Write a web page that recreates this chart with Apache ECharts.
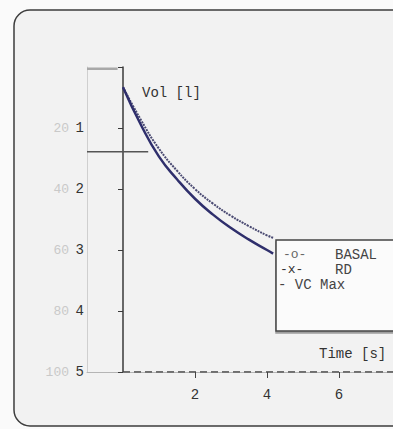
<!DOCTYPE html>
<html>
<head>
<meta charset="utf-8">
<script src="https://cdn.jsdelivr.net/npm/echarts@6/dist/echarts.min.js"></script>
<style>
  html, body { margin: 0; padding: 0; background: #fafafa; }
  #chart { width: 393px; height: 429px; }
</style>
</head>
<body>
<div id="chart"></div>
<script>
// spirometry curves (volume in litres, time in s)
var time  = [0, 0.5, 1, 1.5, 2, 2.5, 3, 3.5, 4, 4.17]
var basal = [0.33, 0.87, 1.34, 1.70, 2.00, 2.24, 2.44, 2.61, 2.76, 2.80]
var rd    = [0.33, 0.95, 1.47, 1.84, 2.16, 2.42, 2.64, 2.83, 3.00, 3.06]
var vcMax = 5
var volTicks = [1, 2, 3, 4, 5]
var pctTicks = [20, 40, 60, 80, 100]
var timeTicks = [2, 4, 6]

var mono = 'Liberation Mono'

function pairs (xs, ys) {
  return xs.map(function (x, i) { return [x, ys[i]] })
}

var chart = echarts.init(document.getElementById('chart'), null, { renderer: 'svg' })

var option = {
  backgroundColor: '#fafafa',
  animation: false,
  grid: {
    left: 87,
    top: 67,
    width: 324,
    height: 305,
    outerBoundsMode: 'none'
  },
  xAxis: {
    type: 'value',
    min: -1,
    max: 8,
    splitLine: { show: false },
    axisLine: { onZero: false, lineStyle: { color: '#b5b5b5', width: 1 } },
    axisTick: { customValues: timeTicks, length: 6, lineStyle: { color: '#444' } },
    axisLabel: {
      customValues: timeTicks,
      margin: 16,
      fontFamily: mono,
      fontSize: 14,
      color: '#333'
    }
  },
  yAxis: [{
    type: 'value',
    min: 0,
    max: 5,
    interval: 1,
    inverse: true,
    splitLine: { show: false },
    axisLine: { onZero: true, lineStyle: { color: '#3a3a3a', width: 1.5 } },
    axisTick: { length: 5, lineStyle: { color: '#3a3a3a' } },
    axisLabel: {
      margin: 3,
      fontFamily: mono,
      fontSize: 14,
      color: '#333',
      formatter: function (v) { return volTicks.indexOf(v) >= 0 ? String(v) : '' }
    }
  }, {
    type: 'value',
    min: 0,
    max: 100,
    interval: 20,
    inverse: true,
    position: 'left',
    splitLine: { show: false },
    axisLine: { show: true, onZero: false, lineStyle: { color: '#cfcfcf', width: 1 } },
    axisTick: { show: false },
    axisLabel: {
      margin: 18,
      fontFamily: mono,
      fontSize: 13,
      color: '#c9c9c9',
      formatter: function (v) { return pctTicks.indexOf(v) >= 0 ? String(v) : '' }
    }
  }],
  series: [{
    name: 'BASAL',
    type: 'line',
    smooth: 0.5,
    symbol: 'none',
    data: pairs(time, basal),
    lineStyle: { color: '#4a4a72', width: 2, type: [2, 1] }
  }, {
    name: 'RD',
    type: 'line',
    smooth: 0.5,
    symbol: 'none',
    data: pairs(time, rd),
    lineStyle: { color: '#2f2f6c', width: 2.5 }
  }, {
    name: 'VC Max',
    type: 'line',
    symbol: 'none',
    data: [[0, vcMax], [8, vcMax]],
    lineStyle: { color: '#444', width: 1.5, type: [7, 4] }
  }, {
    // grey marker at the top of the % scale
    type: 'line',
    symbol: 'none',
    silent: true,
    data: [[-1, 0.03], [-0.15, 0.03]],
    lineStyle: { color: '#a8a8a8', width: 2.5 }
  }, {
    // dark horizontal marker
    type: 'line',
    symbol: 'none',
    silent: true,
    data: [[-1, 1.39], [0.7, 1.39]],
    lineStyle: { color: '#555', width: 1.5 }
  }],
  graphic: [{
    type: 'rect',
    z: -10,
    shape: { x: 14, y: 10, width: 420, height: 416, r: 16 },
    style: { fill: '#f2f2f2', stroke: '#3d3d3d', lineWidth: 1.5 }
  }, {
    type: 'text',
    left: 142,
    top: 86,
    style: { text: 'Vol [l]', font: '14px "Liberation Mono"', fill: '#333' }
  }, {
    type: 'text',
    left: 319,
    top: 347,
    style: { text: 'Time [s]', font: '14px "Liberation Mono"', fill: '#333' }
  }, {
    type: 'rect',
    z: 50,
    shape: { x: 276, y: 240, width: 140, height: 91 },
    style: {
      fill: '#fbfbfb', stroke: '#444', lineWidth: 1.5,
      shadowColor: 'rgba(0,0,0,0.35)', shadowOffsetY: 2, shadowBlur: 1
    }
  }, {
    type: 'text', z: 51, x: 283, y: 248,
    style: { text: '-o-', font: '13px "Liberation Mono"', fill: '#666' }
  }, {
    type: 'text', z: 51, x: 335, y: 248,
    style: { text: 'BASAL', font: '14px "Liberation Mono"', fill: '#444' }
  }, {
    type: 'text', z: 51, x: 280, y: 263,
    style: { text: '-x-', font: '13px "Liberation Mono"', fill: '#333' }
  }, {
    type: 'text', z: 51, x: 335, y: 263,
    style: { text: 'RD', font: '14px "Liberation Mono"', fill: '#444' }
  }, {
    type: 'text', z: 51, x: 278, y: 278,
    style: { text: '- VC Max', font: '14px "Liberation Mono"', fill: '#444' }
  }]
}

chart.setOption(option)
</script>
</body>
</html>
